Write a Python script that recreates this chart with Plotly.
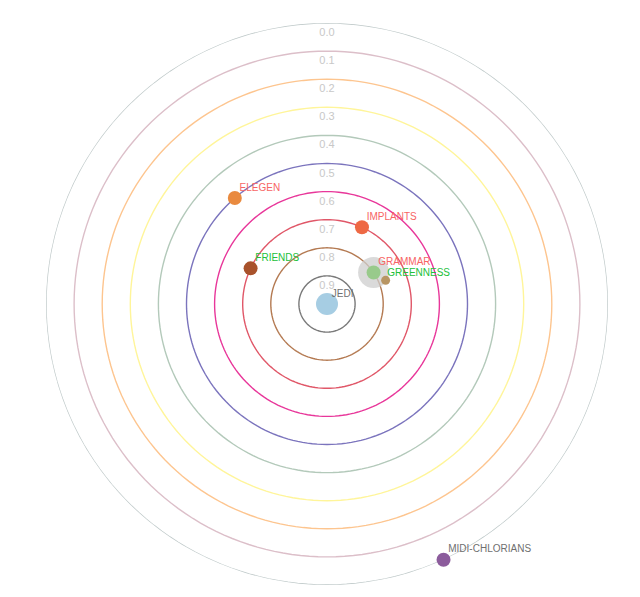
import plotly.graph_objects as go

# similarity rings (0.0 outside, 1.0 at the centre)
ring_levels = [0.0, 0.1, 0.2, 0.3, 0.4, 0.5, 0.6, 0.7, 0.8, 0.9]
ring_colors = ["#bfc9c9", "#dcbfc9", "#fdc58f", "#fff59a", "#b3c9ba",
               "#7b74bd", "#e8379a", "#e05768", "#b47a52", "#7a7a7a"]
ring_labels = ["0.0", "0.1", "0.2", "0.3", "0.4", "0.5", "0.6", "0.7", "0.8", "0.9"]

terms = ["JEDI", "ELEGEN", "IMPLANTS", "FRIENDS", "GRAMMAR", "GREENNESS", "MIDI-CHLORIANS"]
similarity = [1.0, 0.50, 0.70, 0.70, 0.80, 0.775, 0.0]
angle = [0, 131, 65.5, 155, 34, 22, 294.5]
point_colors = ["#a6cde3", "#e98a3f", "#ee6944", "#a8522b", "#98ca8b", "#b89563", "#8c5c9c"]
point_sizes = [22, 14, 14, 14, 14, 9, 14]
label_colors = ["#6f6f6f", "#f76464", "#f76464", "#22c03a", "#f76464", "#22c03a", "#6f6f6f"]

theta_ring = list(range(0, 361, 2))

fig = go.Figure()

for lvl, col in zip(ring_levels, ring_colors):
    fig.add_trace(go.Scatterpolar(
        r=[1 - lvl] * len(theta_ring), theta=theta_ring, mode="lines",
        line=dict(color=col, width=1.4), hoverinfo="skip", showlegend=False))

# invisible markers only push the labels a little away from the anchor point
fig.add_trace(go.Scatterpolar(
    r=[1 - lvl for lvl in ring_levels], theta=[90] * len(ring_levels),
    mode="markers+text", text=ring_labels, textposition="bottom center",
    marker=dict(size=6, opacity=0),
    textfont=dict(color="#c8c8c8", size=11, family="Liberation Sans"),
    hoverinfo="skip", showlegend=False))

# grey halo behind GRAMMAR
gi = terms.index("GRAMMAR")
fig.add_trace(go.Scatterpolar(
    r=[1 - similarity[gi]], theta=[angle[gi]], mode="markers",
    marker=dict(size=31, color="rgba(205,205,205,0.75)", opacity=1),
    hoverinfo="skip", showlegend=False))

fig.add_trace(go.Scatterpolar(
    r=[1 - s for s in similarity], theta=angle, mode="markers",
    marker=dict(size=point_sizes, color=point_colors, opacity=1, line=dict(width=0)),
    hovertext=terms, hoverinfo="text", showlegend=False))

label_pad = [6 if t != "GREENNESS" else 1 for t in terms]
fig.add_trace(go.Scatterpolar(
    r=[1 - s for s in similarity], theta=angle, mode="markers+text",
    text=terms, textposition="top right",
    marker=dict(size=label_pad, opacity=0),
    textfont=dict(color=label_colors, size=10, family="Liberation Sans"),
    hoverinfo="skip", showlegend=False))

fig.update_layout(
    width=640,
    height=597,
    margin=dict(l=38, r=40, t=15, b=20),
    paper_bgcolor="#ffffff",
    polar=dict(
        bgcolor="rgba(0,0,0,0)",
        radialaxis=dict(range=[0, 1], visible=False, showgrid=False),
        angularaxis=dict(visible=False, showgrid=False, rotation=0, direction="counterclockwise"),
    ),
)

fig.write_html("out.html")
